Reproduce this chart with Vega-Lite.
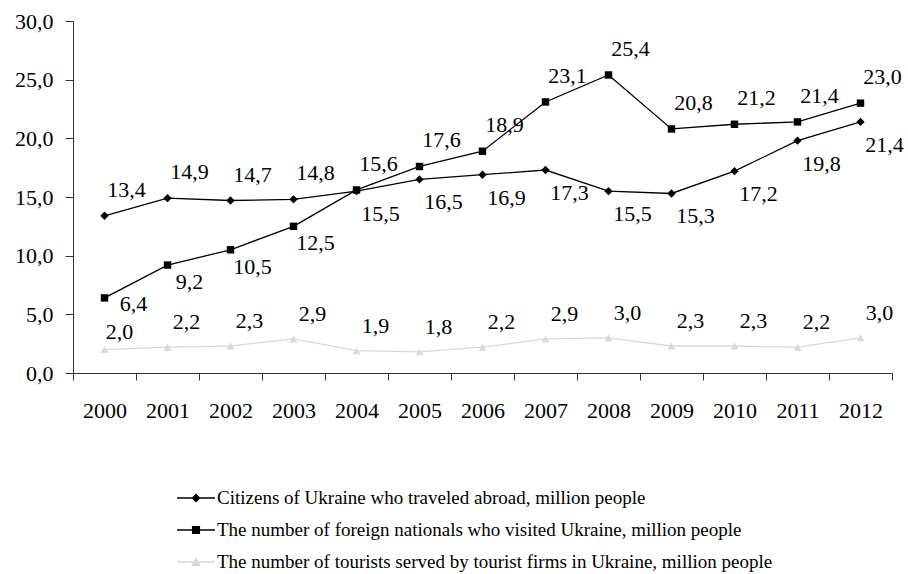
{
  "$schema": "https://vega.github.io/schema/vega-lite/v6.json",
  "autosize": {"type": "none"},
  "width": 819,
  "height": 352,
  "padding": {"left": 73, "top": 21, "right": 16, "bottom": 201},
  "background": "white",
  "config": {
    "view": {"stroke": null},
    "font": "Liberation Serif, Times New Roman, DejaVu Serif, serif",
    "locale": {"number": {"decimal": ",", "thousands": " ", "grouping": [3], "currency": ["", ""]}},
    "axis": {"grid": false, "labelFont": "Liberation Serif, Times New Roman, DejaVu Serif, serif", "labelFontSize": 22, "labelColor": "black", "domainColor": "#333", "tickColor": "#333", "title": null},
    "legend": {"labelFont": "Liberation Serif, Times New Roman, DejaVu Serif, serif", "labelFontSize": 19, "labelColor": "black", "labelLimit": 0}
  },
  "data": {"values": [
    {"year": 2000, "series": "Citizens of Ukraine who traveled abroad, million people", "value": 13.4},
    {"year": 2001, "series": "Citizens of Ukraine who traveled abroad, million people", "value": 14.9},
    {"year": 2002, "series": "Citizens of Ukraine who traveled abroad, million people", "value": 14.7},
    {"year": 2003, "series": "Citizens of Ukraine who traveled abroad, million people", "value": 14.8},
    {"year": 2004, "series": "Citizens of Ukraine who traveled abroad, million people", "value": 15.5},
    {"year": 2005, "series": "Citizens of Ukraine who traveled abroad, million people", "value": 16.5},
    {"year": 2006, "series": "Citizens of Ukraine who traveled abroad, million people", "value": 16.9},
    {"year": 2007, "series": "Citizens of Ukraine who traveled abroad, million people", "value": 17.3},
    {"year": 2008, "series": "Citizens of Ukraine who traveled abroad, million people", "value": 15.5},
    {"year": 2009, "series": "Citizens of Ukraine who traveled abroad, million people", "value": 15.3},
    {"year": 2010, "series": "Citizens of Ukraine who traveled abroad, million people", "value": 17.2},
    {"year": 2011, "series": "Citizens of Ukraine who traveled abroad, million people", "value": 19.8},
    {"year": 2012, "series": "Citizens of Ukraine who traveled abroad, million people", "value": 21.4},
    {"year": 2000, "series": "The number of foreign nationals who visited Ukraine, million people", "value": 6.4},
    {"year": 2001, "series": "The number of foreign nationals who visited Ukraine, million people", "value": 9.2},
    {"year": 2002, "series": "The number of foreign nationals who visited Ukraine, million people", "value": 10.5},
    {"year": 2003, "series": "The number of foreign nationals who visited Ukraine, million people", "value": 12.5},
    {"year": 2004, "series": "The number of foreign nationals who visited Ukraine, million people", "value": 15.6},
    {"year": 2005, "series": "The number of foreign nationals who visited Ukraine, million people", "value": 17.6},
    {"year": 2006, "series": "The number of foreign nationals who visited Ukraine, million people", "value": 18.9},
    {"year": 2007, "series": "The number of foreign nationals who visited Ukraine, million people", "value": 23.1},
    {"year": 2008, "series": "The number of foreign nationals who visited Ukraine, million people", "value": 25.4},
    {"year": 2009, "series": "The number of foreign nationals who visited Ukraine, million people", "value": 20.8},
    {"year": 2010, "series": "The number of foreign nationals who visited Ukraine, million people", "value": 21.2},
    {"year": 2011, "series": "The number of foreign nationals who visited Ukraine, million people", "value": 21.4},
    {"year": 2012, "series": "The number of foreign nationals who visited Ukraine, million people", "value": 23.0},
    {"year": 2000, "series": "The number of tourists served by tourist firms in Ukraine, million people", "value": 2.0},
    {"year": 2001, "series": "The number of tourists served by tourist firms in Ukraine, million people", "value": 2.2},
    {"year": 2002, "series": "The number of tourists served by tourist firms in Ukraine, million people", "value": 2.3},
    {"year": 2003, "series": "The number of tourists served by tourist firms in Ukraine, million people", "value": 2.9},
    {"year": 2004, "series": "The number of tourists served by tourist firms in Ukraine, million people", "value": 1.9},
    {"year": 2005, "series": "The number of tourists served by tourist firms in Ukraine, million people", "value": 1.8},
    {"year": 2006, "series": "The number of tourists served by tourist firms in Ukraine, million people", "value": 2.2},
    {"year": 2007, "series": "The number of tourists served by tourist firms in Ukraine, million people", "value": 2.9},
    {"year": 2008, "series": "The number of tourists served by tourist firms in Ukraine, million people", "value": 3.0},
    {"year": 2009, "series": "The number of tourists served by tourist firms in Ukraine, million people", "value": 2.3},
    {"year": 2010, "series": "The number of tourists served by tourist firms in Ukraine, million people", "value": 2.3},
    {"year": 2011, "series": "The number of tourists served by tourist firms in Ukraine, million people", "value": 2.2},
    {"year": 2012, "series": "The number of tourists served by tourist firms in Ukraine, million people", "value": 3.0}
  ]},
  "resolve": {"axis": {"x": "independent"}},
  "layer": [
    {
      "mark": {"type": "line", "strokeWidth": 1.3},
      "encoding": {
        "x": {"field": "year", "type": "quantitative", "scale": {"domain": [1999.5, 2012.5], "nice": false, "zero": false},
              "axis": {"orient": "bottom", "values": [1999.5, 2000.5, 2001.5, 2002.5, 2003.5, 2004.5, 2005.5, 2006.5, 2007.5, 2008.5, 2009.5, 2010.5, 2011.5, 2012.5], "labels": false, "tickSize": 7}},
        "y": {"field": "value", "type": "quantitative", "scale": {"domain": [0, 30], "nice": false},
              "axis": {"values": [0, 5, 10, 15, 20, 25, 30], "format": ".1f", "tickSize": 8, "labelPadding": 12}},
        "detail": {"field": "series"},
        "stroke": {"condition": {"test": "test(/^The number of tourists/, datum.series)", "value": "#d9d9d9"}, "value": "black"}
      }
    },
    {
      "transform": [{"filter": "test(/^Citizens/, datum.series)"}],
      "mark": {"type": "point", "shape": "diamond", "filled": true, "color": "black", "opacity": 1, "size": 70},
      "encoding": {
        "x": {"field": "year", "type": "quantitative", "axis": {"orient": "bottom", "values": [2000, 2001, 2002, 2003, 2004, 2005, 2006, 2007, 2008, 2009, 2010, 2011, 2012], "format": "d", "ticks": false, "domain": false, "labelPadding": 27}},
        "y": {"field": "value", "type": "quantitative"}
      }
    },
    {
      "transform": [{"filter": "test(/^The number of foreign/, datum.series)"}],
      "mark": {"type": "square", "filled": true, "color": "black", "opacity": 1, "size": 55},
      "encoding": {
        "x": {"field": "year", "type": "quantitative", "axis": null},
        "y": {"field": "value", "type": "quantitative"}
      }
    },
    {
      "transform": [{"filter": "test(/^The number of tourists/, datum.series)"}],
      "mark": {"type": "point", "shape": "triangle-up", "filled": true, "color": "#d9d9d9", "opacity": 1, "size": 65},
      "encoding": {
        "x": {"field": "year", "type": "quantitative", "axis": null},
        "y": {"field": "value", "type": "quantitative"}
      }
    },
    {
      "transform": [{"filter": "(test(/^Citizens/, datum.series) && datum.year <= 2003) || (test(/^The number of foreign/, datum.series) && datum.year >= 2004)"}],
      "mark": {"type": "text", "fontSize": 22, "color": "black", "dx": 22, "dy": -26, "baseline": "middle", "align": "center"},
      "encoding": {
        "x": {"field": "year", "type": "quantitative", "axis": null},
        "y": {"field": "value", "type": "quantitative"},
        "text": {"field": "value", "type": "quantitative", "format": ".1f"}
      }
    },
    {
      "transform": [{"filter": "test(/^The number of tourists/, datum.series) && datum.year >= 2001"}],
      "mark": {"type": "text", "fontSize": 22, "color": "black", "dx": 19, "dy": -25, "baseline": "middle", "align": "center"},
      "encoding": {
        "x": {"field": "year", "type": "quantitative", "axis": null},
        "y": {"field": "value", "type": "quantitative"},
        "text": {"field": "value", "type": "quantitative", "format": ".1f"}
      }
    },
    {
      "transform": [{"filter": "test(/^The number of tourists/, datum.series) && datum.year == 2000"}],
      "mark": {"type": "text", "fontSize": 22, "color": "black", "dx": 15, "dy": -18, "baseline": "middle", "align": "center"},
      "encoding": {
        "x": {"field": "year", "type": "quantitative", "axis": null},
        "y": {"field": "value", "type": "quantitative"},
        "text": {"field": "value", "type": "quantitative", "format": ".1f"}
      }
    },
    {
      "transform": [{"filter": "test(/^Citizens/, datum.series) && datum.year >= 2004"}],
      "mark": {"type": "text", "fontSize": 22, "color": "black", "dx": 24, "dy": 23, "baseline": "middle", "align": "center"},
      "encoding": {
        "x": {"field": "year", "type": "quantitative", "axis": null},
        "y": {"field": "value", "type": "quantitative"},
        "text": {"field": "value", "type": "quantitative", "format": ".1f"}
      }
    },
    {
      "transform": [{"filter": "test(/^The number of foreign/, datum.series) && datum.year >= 2001 && datum.year <= 2003"}],
      "mark": {"type": "text", "fontSize": 22, "color": "black", "dx": 22, "dy": 17, "baseline": "middle", "align": "center"},
      "encoding": {
        "x": {"field": "year", "type": "quantitative", "axis": null},
        "y": {"field": "value", "type": "quantitative"},
        "text": {"field": "value", "type": "quantitative", "format": ".1f"}
      }
    },
    {
      "transform": [{"filter": "test(/^The number of foreign/, datum.series) && datum.year == 2000"}],
      "mark": {"type": "text", "fontSize": 22, "color": "black", "dx": 29, "dy": 6, "baseline": "middle", "align": "center"},
      "encoding": {
        "x": {"field": "year", "type": "quantitative", "axis": null},
        "y": {"field": "value", "type": "quantitative"},
        "text": {"field": "value", "type": "quantitative", "format": ".1f"}
      }
    },
    {
      "transform": [{"filter": "datum.year < 0"}],
      "mark": {"type": "point", "filled": true, "opacity": 1, "strokeWidth": 1.3},
      "encoding": {
        "x": {"field": "year", "type": "quantitative", "axis": null},
        "y": {"field": "value", "type": "quantitative"},
        "shape": {"field": "series", "type": "nominal",
          "scale": {"domain": ["Citizens of Ukraine who traveled abroad, million people", "The number of foreign nationals who visited Ukraine, million people", "The number of tourists served by tourist firms in Ukraine, million people"],
                    "range": ["M-1,0H1M0,-0.19L0.19,0L0,0.19L-0.19,0Z", "M-1,0H1M-0.18,-0.18H0.18V0.18H-0.18Z", "M-1,0H1M0,-0.2L0.2,0.17H-0.2Z"]},
          "legend": {"orient": "none", "legendX": 103, "legendY": 457, "title": null, "symbolSize": 1444, "symbolStrokeWidth": 1.3, "symbolOpacity": 1, "rowPadding": 2, "labelOffset": 1}},
        "fill": {"field": "series", "type": "nominal",
          "scale": {"domain": ["Citizens of Ukraine who traveled abroad, million people", "The number of foreign nationals who visited Ukraine, million people", "The number of tourists served by tourist firms in Ukraine, million people"],
                    "range": ["black", "black", "#d9d9d9"]},
          "legend": {"orient": "none", "legendX": 103, "legendY": 457, "title": null, "symbolSize": 1444, "symbolStrokeWidth": 1.3, "symbolOpacity": 1, "rowPadding": 2, "labelOffset": 1}},
        "stroke": {"field": "series", "type": "nominal",
          "scale": {"domain": ["Citizens of Ukraine who traveled abroad, million people", "The number of foreign nationals who visited Ukraine, million people", "The number of tourists served by tourist firms in Ukraine, million people"],
                    "range": ["black", "black", "#d9d9d9"]},
          "legend": {"orient": "none", "legendX": 103, "legendY": 457, "title": null, "symbolSize": 1444, "symbolStrokeWidth": 1.3, "symbolOpacity": 1, "rowPadding": 2, "labelOffset": 1}}
      }
    }
  ]
}
